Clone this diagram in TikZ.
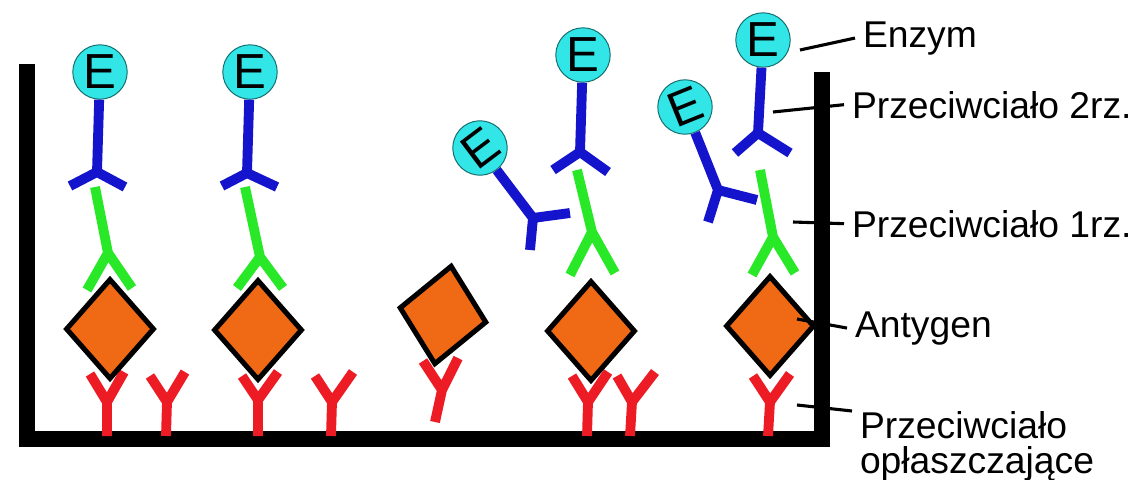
\documentclass[tikz,border=0pt]{standalone}
\usepackage{fontspec}
\setmainfont{Liberation Sans}
\usetikzlibrary{shapes.geometric}
\definecolor{abred}{RGB}{237,28,36}
\definecolor{abgreen}{RGB}{40,232,40}
\definecolor{abblue}{RGB}{20,20,205}
\definecolor{agorange}{RGB}{240,106,22}
\definecolor{enzcyan}{RGB}{50,230,232}
\definecolor{enzedge}{RGB}{20,110,110}
\newcommand{\widthantigen}{2.22cm}
\newcommand{\heightantigen}{2.52cm}
% stem, fork, left arm, right arm
\newcommand{\antibody}[5]{\draw[#1] #2 -- #3 #4 -- #3 -- #5;}
\tikzset{
    wall/.style={line width=12pt, line join=miter},
    ab/.style={line width=7pt},
    capture/.style={ab, draw=abred},
    primary/.style={ab, draw=abgreen},
    secondary/.style={ab, draw=abblue},
    antigen/.style={diamond, draw, fill=agorange, line width=3.6pt, inner sep=0pt,
        minimum width=\widthantigen, minimum height=\heightantigen},
    enzyme/.style={circle, draw=enzedge, fill=enzcyan, line width=0.7pt, inner sep=0pt,
        minimum size=1.36cm, font=\fontsize{35}{35}\selectfont},
    lbl/.style={inner sep=0pt, outer sep=0.2cm, font=\fontsize{26.5}{25}\selectfont},
    leader/.style={line width=2.2pt}
}
\begin{document}
\begin{tikzpicture}[x=0.025cm, y=-0.025cm]
    \useasboundingbox (0,0) rectangle (1132,480);

    % the well
    \draw[wall] (27,64) -- (27,439) -- (822,439) -- (822,72);

    % coating antibodies
    \antibody{capture}{(107,436)}{(107,402)}{(90,374)}{(124,372)}
    \antibody{capture}{(166,436)}{(167,402)}{(150,376)}{(185,372)}
    \antibody{capture}{(258,436)}{(258,400)}{(242,376)}{(278,372)}
    \antibody{capture}{(331,436)}{(332,402)}{(315,376)}{(353,372)}
    \antibody{capture}{(435,422)}{(442,390)}{(423,361)}{(458,358)}
    \antibody{capture}{(587,436)}{(588,402)}{(572,376)}{(608,372)}
    \antibody{capture}{(630,436)}{(632,402)}{(617,376)}{(655,372)}
    \antibody{capture}{(768,436)}{(770,402)}{(753,376)}{(790,374)}

    \node[antigen] (ag1) at (110,329) {};
    \node[antigen] (ag2) at (258,330) {};
    \node[antigen, rotate=-9.5] (ag3) at (443,315) {};
    \node[antigen] (ag4) at (591,331) {};
    \node[antigen] (ag5) at (770,326) {};

    \antibody{primary}{(95,187)}{(108,253)}{(87,290)}{(132,288)}
    \antibody{primary}{(245,187)}{(260,257)}{(237,288)}{(283,288)}
    \antibody{primary}{(577,170)}{(592,232)}{(570,275)}{(615,273)}
    \antibody{primary}{(760,170)}{(773,237)}{(752,275)}{(795,273)}

    \node[enzyme] (e1) at (100,72) {E};
    \node[enzyme] (e2) at (250,72) {E};
    \node[enzyme, rotate=37] (e3) at (480,148) {E};
    \node[enzyme] (e4) at (583,55) {E};
    \node[enzyme, rotate=22] (e5) at (685,107) {E};
    \node[enzyme] (e6) at (763,40) {E};

    \antibody{secondary}{(e1)}{(97,172)}{(70,186)}{(125,187)}
    \antibody{secondary}{(e2)}{(247,173)}{(222,186)}{(277,187)}
    \antibody{secondary}{(e3)}{(533,218)}{(530,250)}{(570,213)}
    \antibody{secondary}{(e4)}{(580,152)}{(553,170)}{(608,172)}
    \antibody{secondary}{(e5)}{(718,190)}{(708,222)}{(757,200)}
    \antibody{secondary}{(e6)}{(758,133)}{(735,153)}{(790,153)}

    % legend
    \coordinate (ptr-enz) at (800,50);
    \coordinate (ptr-sec) at (773,112);
    \coordinate (ptr-pri) at (793,222);
    \coordinate (ptr-ag) at (797,319);
    \coordinate (ptr-cap) at (797,405);

    \node[lbl, anchor=base west] (l-enz) at (855,47) {Enzym};
    \node[lbl, anchor=base west] (l-sec) at (844,118) {Przeciwciało 2rz.};
    \node[lbl, anchor=base west] (l-pri) at (844,237) {Przeciwciało 1rz.};
    \node[lbl, anchor=base west] (l-ag) at (847,337) {Antygen};
    \node[lbl, anchor=north west, align=left] (l-cap) at (852,403) {Przeciwciało\\opłaszczające};

    \draw[leader] (ptr-enz) -- (l-enz.west);
    \draw[leader] (ptr-sec) -- (l-sec.west);
    \draw[leader] (ptr-pri) -- (l-pri.west);
    \draw[leader] (ptr-ag) -- (l-ag.west);
    \draw[leader] (ptr-cap) -- ([yshift=-0.2cm]l-cap.north west);
\end{tikzpicture}
\end{document}
